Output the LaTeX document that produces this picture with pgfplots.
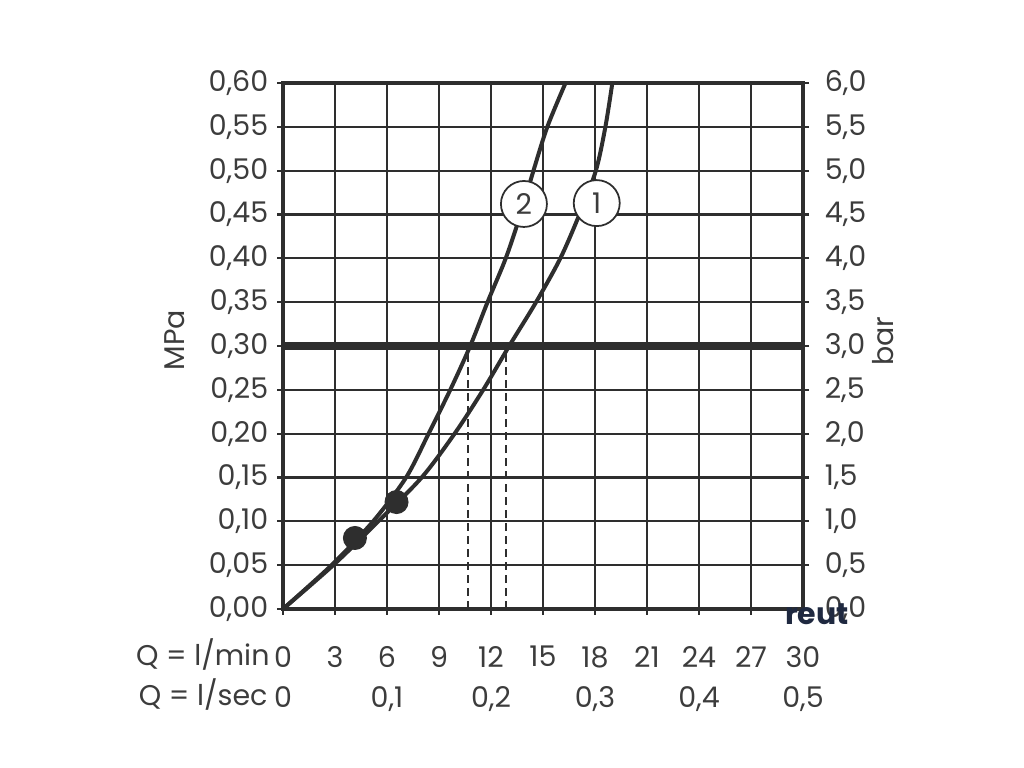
\documentclass[border=0pt]{standalone}
\usepackage{fontspec}
\setmainfont{Poppins}
\usepackage{pgfplots}
\usepackage{pgfplotstable}
\pgfplotsset{compat=1.18}

\definecolor{ink}{HTML}{2E2E2E}
\definecolor{txt}{HTML}{3C3C3C}
\definecolor{wm}{HTML}{1F2940}
\newcommand\lab{\fontsize{11.4pt}{16pt}\selectfont}

% curve 2 (steeper) and curve 1, Q in l/min vs p in MPa
\pgfplotstableread{
q     p
0     0
2.8   0.05
5.2   0.10
7.1   0.15
8.4   0.20
9.65  0.25
10.8  0.30
11.8  0.35
12.85 0.40
13.7  0.45
14.45 0.50
15.25 0.55
16.3  0.60
}\curvetwo
\pgfplotstableread{
q     p
0     0
2.9   0.05
5.5   0.10
8.0   0.15
9.9   0.20
11.55 0.25
13.05 0.30
14.6  0.35
16.0  0.40
17.1  0.45
18.05 0.50
18.6  0.55
19.0  0.60
}\curveone

\begin{document}
\begin{tikzpicture}
\useasboundingbox (0,0) rectangle (409.6pt,307.2pt);

\begin{axis}[
    at={(113.2pt,63.6pt)}, anchor=south west,
    scale only axis, width=208pt, height=210.4pt,
    xmin=0, xmax=30, ymin=0, ymax=0.6,
    xtick={0,3,6,9,12,15,18,21,24,27,30},
    xticklabels={{0\\0},{3\\},{6\\0,1},{9\\},{12\\0,2},{15\\},{18\\0,3},{21\\},{24\\0,4},{27\\},{30\\0,5}},
    ytick={0,0.05,0.1,0.15,0.2,0.25,0.3,0.35,0.4,0.45,0.5,0.55,0.6},
    /pgf/number format/use comma, /pgf/number format/fixed,
    /pgf/number format/fixed zerofill, /pgf/number format/precision=2,
    /pgf/number format/assume math mode=true,
    xticklabel style={align=center, text=txt, font=\lab, yshift=-9pt},
    yticklabel style={text=txt, font=\lab},
    xtick pos=bottom, ytick pos=left,
    tick align=outside, major tick length=2.4pt,
    tick style={ink, line width=0.9pt},
    grid=major, major grid style={ink, line width=0.9pt},
    axis line style={ink, line width=1.3pt},
]
\addplot[ink, line width=1.6pt, smooth] table {\curvetwo};
\addplot[ink, line width=1.6pt, smooth] table {\curveone};
\addplot[ink, line width=3.4pt] coordinates {(0,0.3) (30,0.3)};
\addplot[ink, line width=0.8pt, dash pattern=on 3.2pt off 2pt] coordinates {(10.65,0) (10.65,0.3)};
\addplot[ink, line width=0.8pt, dash pattern=on 3.2pt off 2pt] coordinates {(12.87,0) (12.87,0.3)};
\addplot[only marks, mark=*, mark size=4.6pt, ink] coordinates {(4.15,0.081) (6.55,0.122)};
\node[circle, draw=ink, fill=white, line width=0.7pt, minimum size=18.4pt, inner sep=0pt, text=txt, font=\lab] at (axis cs:13.9,0.462) {2};
\node[circle, draw=ink, fill=white, line width=0.7pt, minimum size=18.4pt, inner sep=0pt, text=txt, font=\lab] at (axis cs:18.1,0.463) {1};
\end{axis}

\begin{axis}[
    at={(113.2pt,63.6pt)}, anchor=south west,
    scale only axis, width=208pt, height=210.4pt,
    xmin=0, xmax=30, ymin=0, ymax=6,
    axis x line=none, axis y line*=right,
    ytick={0,0.5,1,1.5,2,2.5,3,3.5,4,4.5,5,5.5,6},
    /pgf/number format/use comma, /pgf/number format/fixed,
    /pgf/number format/fixed zerofill, /pgf/number format/precision=1,
    /pgf/number format/assume math mode=true,
    yticklabel style={text=txt, font=\lab, xshift=2.8pt},
    tick align=outside, major tick length=2.4pt,
    tick style={ink, line width=0.9pt},
    axis line style={ink, line width=1.3pt},
]
\end{axis}

\node[rotate=90, text=txt, font=\lab] at (70pt,171.2pt) {MPa};
\node[rotate=90, text=txt, font=\lab] at (353.2pt,170.8pt) {bar};
\node[anchor=east, text=txt, font=\lab, inner sep=0pt] at (108pt,45.2pt) {Q = l/min};
\node[anchor=east, text=txt, font=\lab, inner sep=0pt] at (107.2pt,29.2pt) {Q = l/sec};
\node[text=wm, font=\bfseries\fontsize{12pt}{12pt}\selectfont] at (326.8pt,61.6pt) {reut};
\end{tikzpicture}
\end{document}
